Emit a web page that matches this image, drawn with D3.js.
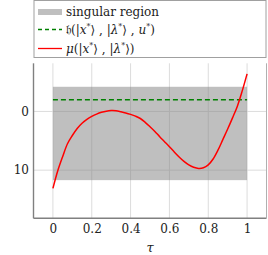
<!DOCTYPE html>
<html>
<head>
<meta charset="utf-8">
<script src="https://cdn.jsdelivr.net/npm/d3@7"></script>
<style>
body { margin: 0; background: #fff; }
svg text { font-family: "DejaVu Serif", serif; }
</style>
</head>
<body>
<svg width="268" height="255"></svg>
<script>
var svg = d3.select("svg");

// data
var tau = [0, 0.025, 0.05, 0.075, 0.1, 0.125, 0.15, 0.175, 0.2, 0.225, 0.25, 0.275, 0.3, 0.325, 0.35, 0.375,
  0.4, 0.425, 0.45, 0.475, 0.5, 0.525, 0.55, 0.575, 0.6, 0.625, 0.65, 0.675, 0.7, 0.725, 0.75, 0.775,
  0.8, 0.825, 0.85, 0.875, 0.9, 0.925, 0.95, 0.975, 1];
var mu = [13.1, 10.1, 7.7, 5.5, 4.1, 2.9, 2.0, 1.35, 0.85, 0.45, 0.15, -0.05, -0.15, -0.12, 0.05, 0.25,
  0.5, 0.8, 1.2, 1.85, 2.6, 3.4, 4.3, 5.15, 6.0, 6.9, 7.75, 8.5, 9.1, 9.5, 9.7, 9.6,
  9.1, 8.1, 6.6, 4.8, 3.0, 1.1, -0.9, -3.5, -6.4];
var hLevel = -2.0;
var regionTau = [0, 1];
var regionY = [-4.2, 11.7];
var xTicks = [0, 0.2, 0.4, 0.6, 0.8, 1];
var yTicks = [0, 10];

var x = d3.scaleLinear().domain([-0.1, 1.1]).range([33.5, 266.5]);
var y = d3.scaleLinear().domain([-8.2, 18.2]).range([63.3, 218.3]);

// grid
svg.append("g").selectAll("line").data(xTicks).enter().append("line")
  .attr("x1", d => x(d)).attr("x2", d => x(d))
  .attr("y1", y.range()[0]).attr("y2", y.range()[1])
  .attr("stroke", "#dcdcdc").attr("stroke-width", 1);
svg.append("g").selectAll("line").data(yTicks).enter().append("line")
  .attr("x1", x.range()[0]).attr("x2", x.range()[1])
  .attr("y1", d => y(d)).attr("y2", d => y(d))
  .attr("stroke", "#dcdcdc").attr("stroke-width", 1);

// singular region
svg.append("rect")
  .attr("x", x(regionTau[0])).attr("width", x(regionTau[1]) - x(regionTau[0]))
  .attr("y", y(regionY[0])).attr("height", y(regionY[1]) - y(regionY[0]))
  .attr("fill", "#808080").attr("fill-opacity", 0.5);

// h line
svg.append("line")
  .attr("x1", x(0)).attr("x2", x(1)).attr("y1", y(hLevel)).attr("y2", y(hLevel))
  .attr("stroke", "#008000").attr("stroke-width", 1.6).attr("stroke-dasharray", "5,3");

// mu curve
var line = d3.line().x((d, i) => x(tau[i])).y(d => y(d)).curve(d3.curveCatmullRom);
svg.append("path").datum(mu).attr("d", line)
  .attr("fill", "none").attr("stroke", "#ff0000").attr("stroke-width", 1.5);

// spines
svg.append("line").attr("x1", 33.5).attr("x2", 33.5).attr("y1", 63.3).attr("y2", 218.3)
  .attr("stroke", "#808080").attr("stroke-width", 1.4);
svg.append("line").attr("x1", 33.5).attr("x2", 266.5).attr("y1", 218.3).attr("y2", 218.3)
  .attr("stroke", "#808080").attr("stroke-width", 1.4);
svg.append("line").attr("x1", 266.5).attr("x2", 266.5).attr("y1", 63.3).attr("y2", 218.3)
  .attr("stroke", "#b0b0b0").attr("stroke-width", 1);

// axes labels
var xa = svg.append("g").attr("transform", "translate(0,221)")
  .call(d3.axisBottom(x).tickValues(xTicks).tickSize(0).tickFormat(d3.format("~g")));
xa.attr("font-family", null).attr("font-size", 12);
xa.select(".domain").remove();
xa.selectAll("text").attr("fill", "#222");

var ya = svg.append("g").attr("transform", "translate(29,0)")
  .call(d3.axisLeft(y).tickValues(yTicks).tickSize(0).tickPadding(0));
ya.attr("font-family", null).attr("font-size", 12);
ya.select(".domain").remove();
ya.selectAll("text").attr("fill", "#222");

svg.append("text").attr("x", x(0.5)).attr("y", 252).attr("text-anchor", "middle")
  .attr("font-size", 13).attr("font-style", "italic").attr("fill", "#222").text("τ");

// legend
var lg = svg.append("g");
lg.append("rect").attr("x", 34).attr("y", 0.5).attr("width", 232).attr("height", 57)
  .attr("fill", "#fff").attr("stroke", "#a0a0a0").attr("stroke-width", 1);
lg.append("rect").attr("x", 38).attr("y", 9).attr("width", 24).attr("height", 6)
  .attr("fill", "#808080").attr("fill-opacity", 0.5);
lg.append("line").attr("x1", 38).attr("x2", 62).attr("y1", 29.5).attr("y2", 29.5)
  .attr("stroke", "#008000").attr("stroke-width", 1.3).attr("stroke-dasharray", "4,3");
lg.append("line").attr("x1", 38).attr("x2", 62).attr("y1", 48.5).attr("y2", 48.5)
  .attr("stroke", "#ff0000").attr("stroke-width", 1.3);

var fs = 12;
lg.append("text").attr("x", 66).attr("y", 16).attr("font-size", fs).attr("fill", "#222").text("singular region");

function ket(t, sym) {
  t.append("tspan").text("|");
  t.append("tspan").attr("font-style", "italic").text(sym);
  t.append("tspan").attr("font-size", 8).attr("dy", -5).text("*");
  t.append("tspan").attr("dy", 5).text("⟩");
}
var t2 = lg.append("text").attr("x", 66).attr("y", 34).attr("font-size", fs).attr("fill", "#222");
t2.append("tspan").text("𝔥(");
ket(t2, "x");
t2.append("tspan").text(" , ");
ket(t2, "λ");
t2.append("tspan").text(" , ");
t2.append("tspan").attr("font-style", "italic").text("u");
t2.append("tspan").attr("font-size", 8).attr("dy", -5).text("*");
t2.append("tspan").attr("dy", 5).text(")");

var t3 = lg.append("text").attr("x", 66).attr("y", 53).attr("font-size", fs).attr("fill", "#222");
t3.append("tspan").attr("font-style", "italic").text("μ");
t3.append("tspan").text("(");
ket(t3, "x");
t3.append("tspan").text(" , ");
ket(t3, "λ");
t3.append("tspan").text(")");
</script>
</body>
</html>
